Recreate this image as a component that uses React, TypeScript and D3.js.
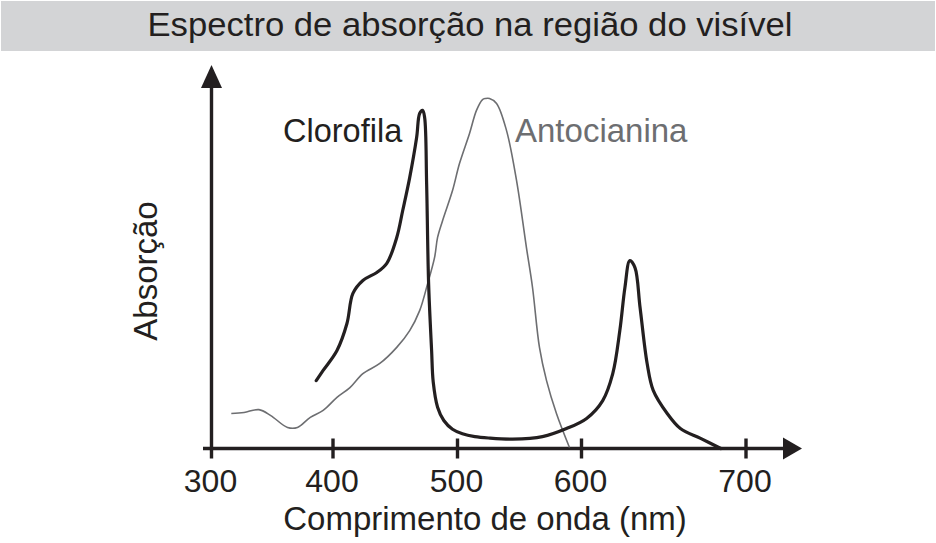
import React from "react";
import * as d3 from "d3";

// Wavelength tick values (nm) and their positions along the schematic axis
const tickValues = [300, 400, 500, 600, 700];
const tickLabels = ["300", "400", "500", "600", "700"];

// Clorofila absorption (wavelength nm, relative absorbance)
const clorofilaNm = [386.2, 391.9, 403.2, 411.2, 416, 424, 435.2, 443.2, 451.2, 456, 461.6, 467.2, 469.6, 472, 473.6, 475.2, 476.8, 479.2, 480.5, 484, 489, 496, 504, 514, 525, 544.4, 568.5, 587.9, 603.1, 612.9, 619, 623.3, 626.4, 629.4, 632.5, 635.6, 639.9, 643.6, 652.1, 660.1, 672.4, 684.7];
const clorofilaAbs = [0.194, 0.223, 0.28, 0.357, 0.443, 0.48, 0.503, 0.529, 0.603, 0.68, 0.774, 0.889, 0.957, 0.966, 0.946, 0.757, 0.471, 0.28, 0.19, 0.118, 0.08, 0.055, 0.042, 0.034, 0.03, 0.027, 0.034, 0.057, 0.086, 0.137, 0.214, 0.337, 0.46, 0.537, 0.517, 0.403, 0.243, 0.166, 0.1, 0.057, 0.029, 0.0];

// Antocianina absorption
const antocianinaNm = [316.3, 326.8, 339, 348.8, 362.6, 370.7, 381.3, 391.9, 403.2, 413.6, 424, 437.6, 451.2, 461.6, 469.6, 476, 481.6, 484, 488, 496, 501.6, 509.7, 515.3, 520.2, 522.6, 525.8, 531.5, 539.5, 547.6, 555.6, 560.5, 566.1, 571.8, 579.8, 590.3];
const antocianinaAbs = [0.1, 0.103, 0.111, 0.094, 0.06, 0.06, 0.089, 0.109, 0.146, 0.174, 0.214, 0.243, 0.289, 0.337, 0.394, 0.471, 0.546, 0.603, 0.651, 0.737, 0.814, 0.9, 0.966, 0.997, 1.0, 1.0, 0.986, 0.909, 0.766, 0.574, 0.46, 0.289, 0.194, 0.1, 0.003];

const title = "Espectro de absorção na região do visível";
const xTitle = "Comprimento de onda (nm)";
const yTitle = "Absorção";
const seriesNames = ["Clorofila", "Antocianina"];

export default function App() {
  const W = 936;
  const H = 543;
  const ink = "#231f20";
  const grey = "#6d6e71";
  const font = "'Liberation Sans', Arial, Helvetica, sans-serif";

  const x = d3.scaleLinear().domain(tickValues).range([211.5, 333, 457.5, 581.5, 746]);
  const y = d3.scaleLinear().domain([0, 1]).range([448.5, 98.5]);

  const axisY = y(0);
  const axisX = x(300);

  const line = d3
    .line<[number, number]>()
    .x((d) => x(d[0]))
    .y((d) => y(d[1]))
    .curve(d3.curveCatmullRom.alpha(0.5));

  const cloro = clorofilaNm.map((v, i) => [v, clorofilaAbs[i]] as [number, number]);
  const anto = antocianinaNm.map((v, i) => [v, antocianinaAbs[i]] as [number, number]);

  return (
    <svg
      width={W}
      height={H}
      style={{ position: "absolute", left: 0, top: 0, background: "#fff" }}
      fontFamily={font}
    >
      <rect x={1} y={1} width={W - 2} height={50} fill="#d3d4d6" />
      <text x={470} y={36} textAnchor="middle" fontSize={33} fill={ink} textLength={645} lengthAdjust="spacingAndGlyphs">
        {title}
      </text>

      {/* axes */}
      <line x1={axisX} y1={86} x2={axisX} y2={axisY + 10} stroke={ink} strokeWidth={3.4} />
      <path d={`M${axisX},65 L${axisX + 10.5},88 L${axisX - 10.5},88 Z`} fill={ink} />
      <line x1={203} y1={axisY} x2={785} y2={axisY} stroke={ink} strokeWidth={3.4} />
      <path d={`M802,${axisY} L783,${axisY - 11} L783,${axisY + 11} Z`} fill={ink} />

      {tickValues.map((t, i) => (
        <g key={t}>
          {i > 0 && <line x1={x(t)} y1={axisY - 10} x2={x(t)} y2={axisY + 10} stroke={ink} strokeWidth={3.4} />}
          <text x={x(t) - 1} y={492} textAnchor="middle" fontSize={32} fill={ink}>
            {tickLabels[i]}
          </text>
        </g>
      ))}

      <text x={485} y={530} textAnchor="middle" fontSize={33} fill={ink}>
        {xTitle}
      </text>
      <text transform="translate(157,271) rotate(-90)" textAnchor="middle" fontSize={33} fill={ink}>
        {yTitle}
      </text>

      {/* curves */}
      <path d={line(anto) || ""} fill="none" stroke={grey} strokeWidth={1.6} />
      <path d={line(cloro) || ""} fill="none" stroke={ink} strokeWidth={3.2} strokeLinecap="round" strokeLinejoin="round" />

      <text x={283} y={142} fontSize={32.5} fill={ink}>
        {seriesNames[0]}
      </text>
      <text x={515} y={142} fontSize={33} fill={grey}>
        {seriesNames[1]}
      </text>
    </svg>
  );
}
